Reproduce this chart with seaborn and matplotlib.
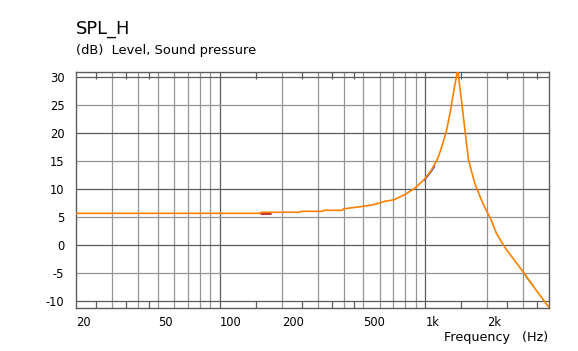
import matplotlib
matplotlib.use("Agg")
import matplotlib.pyplot as plt
from matplotlib.ticker import NullFormatter, FixedLocator
import seaborn as sns
import pandas as pd

# ---- data ----
freq_hz = [20, 155, 160, 245, 250, 315, 320, 395, 400, 430, 500, 550, 600, 635,
           700, 800, 887, 992, 1070, 1144, 1196, 1265, 1328, 1378, 1431, 1441,
           1458, 1525, 1583, 1624, 1739, 1874, 2000, 2078, 2220, 2430, 3000, 3460, 4000]
spl_db = [5.6, 5.6, 5.78, 5.8, 5.96, 5.96, 6.14, 6.14, 6.4, 6.55, 6.86, 7.1, 7.45, 7.75,
          8.0, 9.0, 10.07, 11.7, 13.3, 15.25, 17.2, 20.2, 24.05, 27.6, 30.9, 31.4,
          29.4, 23.5, 18.4, 15.1, 11.0, 8.0, 5.8, 4.7, 2.0, -0.4, -4.9, -8.1, -11.2]

# short visible pieces of the other (hidden) traces
red_f = [159, 178]
red_db = [5.52, 5.52]
blue_f = [985, 1030, 1070, 1110]
blue_db = [11.45, 12.3, 13.1, 14.0]
green_f = [3000, 3150, 3330]
green_db = [-5.0, -6.1, -7.3]

x_labels = ["20", "50", "100", "200", "500", "1k", "2k"]
x_label_pos = [20, 50, 100, 200, 500, 1000, 2000]
y_ticks = [30, 25, 20, 15, 10, 5, 0, -5, -10]

grid_light_x = [30, 40, 50, 60, 70, 80, 90, 200, 300, 400, 500, 600, 700, 800, 900, 2000, 3000]
grid_dark_x = [100, 1000]
minor_ticks_x = [25, 35, 45, 150, 250, 350, 450, 1500, 2500, 3500]

sns.set_theme(style="white")
plt.rcParams["font.family"] = ["DejaVu Sans"]
plt.rcParams["axes.unicode_minus"] = False

fig = plt.figure(figsize=(5.78, 3.51), dpi=100)
ax = fig.add_axes([76.3 / 578, 1 - 308 / 351, (549 - 76.3) / 578, (308 - 72.3) / 351])

DARK = "#5c5c5c"
LIGHT = "#959595"

for v in grid_light_x:
    ax.axvline(v, color=LIGHT, lw=0.9, zorder=1)
for v in grid_dark_x:
    ax.axvline(v, color=DARK, lw=0.9, zorder=1)
for v in y_ticks:
    ax.axhline(v, color=DARK if v % 10 == 0 else LIGHT, lw=0.9, zorder=1)

df = pd.DataFrame({"f": freq_hz, "db": spl_db})
sns.lineplot(data=pd.DataFrame({"f": red_f, "db": red_db}), x="f", y="db", ax=ax,
             color="#c02020", lw=1.3, estimator=None, sort=False, zorder=2)
sns.lineplot(data=pd.DataFrame({"f": blue_f, "db": blue_db}), x="f", y="db", ax=ax,
             color="#3030d0", lw=1.0, estimator=None, sort=False, zorder=2)
sns.lineplot(data=pd.DataFrame({"f": green_f, "db": green_db}), x="f", y="db", ax=ax,
             color="#40a040", lw=1.0, estimator=None, sort=False, zorder=2)
sns.lineplot(data=df, x="f", y="db", ax=ax, color="#ff8000", lw=1.2,
             estimator=None, sort=False, zorder=3)

ax.set_xscale("log")
ax.set_xlim(20, 4000)
ax.set_ylim(-11.3, 30.78)

ax.xaxis.set_major_locator(FixedLocator(x_label_pos))
ax.set_xticklabels(x_labels)
ax.xaxis.set_minor_locator(FixedLocator(minor_ticks_x))
ax.xaxis.set_minor_formatter(NullFormatter())
ax.tick_params(axis="x", which="major", length=0, pad=5.5, labelsize=8.3, colors="black")
ax.tick_params(axis="x", which="minor", length=5.2, width=0.9, direction="in",
               top=True, bottom=True, color=DARK)
for lab in ax.get_xticklabels():
    lab.set_horizontalalignment("left")

ax.set_yticks(y_ticks)
ax.set_yticklabels([str(v) for v in y_ticks])
ax.tick_params(axis="y", which="both", length=0, pad=8.5, labelsize=8.3, colors="black")

for s in ax.spines.values():
    s.set_color(DARK)
    s.set_linewidth(1.0)
ax.set_xlabel("")
ax.set_ylabel("")
ax.grid(False)

fig.text(76.3 / 578, 1 - 29.5 / 351, "SPL_H", fontsize=12.9, ha="left", va="center", color="black")
fig.text(76.3 / 578, 1 - 50.7 / 351, "(dB)  Level, Sound pressure", fontsize=9.4, ha="left",
         va="center", color="black")
fig.text(548 / 578, 1 - 337.7 / 351, "Frequency   (Hz)", fontsize=9.2, ha="right",
         va="center", color="black")

fig.savefig("out.png", dpi=100, facecolor="white")
